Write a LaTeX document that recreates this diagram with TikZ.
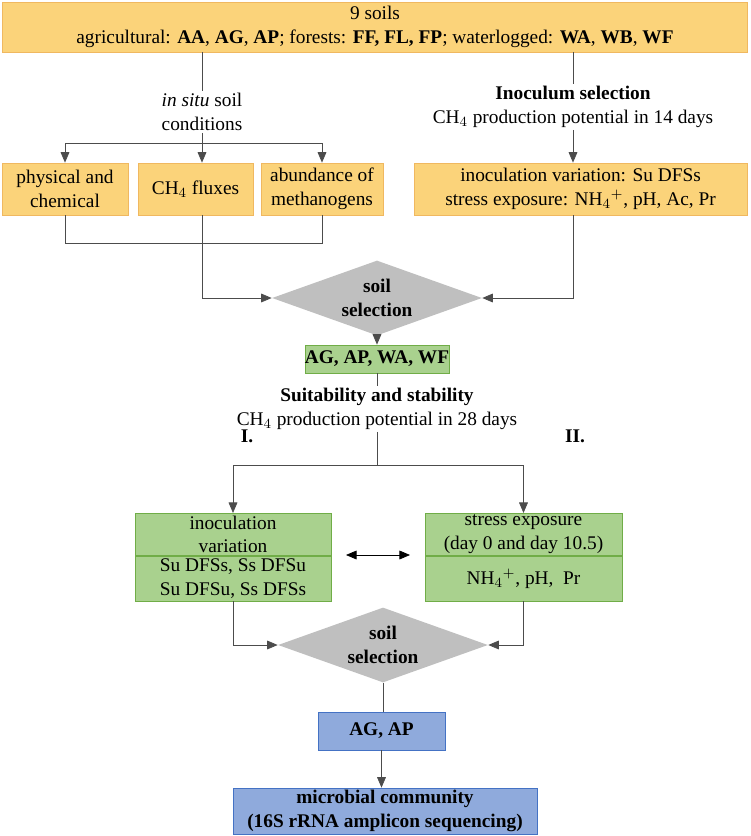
\documentclass[tikz,border=0pt]{standalone}
\usepackage{fontspec}
\setmainfont{Liberation Serif}
\usetikzlibrary{arrows.meta, positioning, shapes.geometric}
\definecolor{orfill}{RGB}{251,211,122}
\definecolor{ordraw}{RGB}{240,184,96}
\definecolor{grfill}{RGB}{169,209,142}
\definecolor{grdraw}{RGB}{112,173,71}
\definecolor{blfill}{RGB}{143,170,220}
\definecolor{bldraw}{RGB}{68,114,196}
\definecolor{dmfill}{RGB}{191,191,191}
\tikzset{
  orbox/.style={draw=ordraw,fill=orfill,align=center,inner sep=0pt},
  grbox/.style={draw=grdraw,fill=grfill,align=center,inner sep=0pt},
  blbox/.style={draw=bldraw,fill=blfill,align=center,inner sep=0pt},
  decide/.style={diamond,fill=dmfill,align=center,inner sep=0pt,aspect=2.8,minimum width=4.2cm,minimum height=1.5cm,font=\bfseries\fontsize{11}{13.5}\selectfont},
  plain/.style={align=center,inner sep=1pt},
  flow/.style={draw=black!70,-{Triangle[width=5pt,length=6pt]}},
  link/.style={draw=black!70}
}
\begin{document}
\begin{tikzpicture}[x=0.02cm,y=-0.02cm,font=\fontsize{11}{13.5}\selectfont]
\useasboundingbox (0,0) rectangle (751,836);
% soils
\node (soils) [orbox,minimum width=14.9cm,minimum height=1cm] at (375,27) {9 soils\\ agricultural: \textbf{AA}, \textbf{AG}, \textbf{AP}; forests: \textbf{FF, FL, FP}; waterlogged: \textbf{WA}, \textbf{WB}, \textbf{WF}};
%------------------------------------------------
\node (insitu) [plain] at (202,112) {\textit{in situ} soil\\ conditions};
\node (inoc) [plain] at (573,107) {\textbf{Inoculum selection}\\ CH$_4$ production potential in 14 days};
\coordinate (split) at (202,143);
\node (phys) [orbox,minimum width=2.52cm,minimum height=1.04cm] at (65,189) {physical and\\ chemical};
\node (flux) [orbox,minimum width=2.3cm,minimum height=1.04cm] at (195.5,189) {CH$_4$ fluxes};
\node (abund) [orbox,minimum width=2.44cm,minimum height=1.04cm] at (322,189) {abundance of\\ methanogens};
\node (inocvar) [orbox,minimum width=6.66cm,minimum height=1.04cm] at (580.5,189) {inoculation variation: Su DFSs\\ stress exposure: NH$_4{}^{+}$, pH, Ac, Pr};
%------------------------------------------------
\node (sel1) [decide] at (377,298) {soil\\ selection};
\node (four) [grbox,minimum width=2.56cm,minimum height=0.56cm,font=\bfseries\fontsize{11}{13.5}\selectfont] at (377,359) {AG, AP, WA, WF};
\node (suit) [plain] at (377,409) {\textbf{Suitability and stability}\\ CH$_4$ production potential in 28 days};
\coordinate (fork) at (377,465);
%------------------------------------------------
\node (varA) [grbox,minimum width=3.92cm,minimum height=0.84cm,anchor=north] at (233,513) {inoculation\\ variation};
\node (varB) [grbox,minimum width=3.92cm,minimum height=0.9cm,anchor=north] at (varA.south) {Su DFSs, Ss DFSu\\ Su DFSu, Ss DFSs};
\node (strA) [grbox,minimum width=3.94cm,minimum height=0.84cm,anchor=north] at (523.5,513) {stress exposure\\ (day 0 and day 10.5)};
\node (strB) [grbox,minimum width=3.94cm,minimum height=0.9cm,anchor=north] at (strA.south) {NH$_4{}^{+}$, pH,~ Pr};
\node (lblI) [plain,font=\bfseries\fontsize{11}{13.5}\selectfont] at (247,436) {I.};
\node (lblII) [plain,font=\bfseries\fontsize{11}{13.5}\selectfont] at (575,436) {II.};
\coordinate (dl) at (346,555);
\coordinate (dr) at (410,555);
%------------------------------------------------
\node (sel2) [decide] at (383,645) {soil\\ selection};
\node (two) [blbox,minimum width=2.54cm,minimum height=0.76cm,font=\bfseries\fontsize{11}{13.5}\selectfont] at (381.5,731) {AG, AP};
\node (micro) [blbox,minimum width=6.08cm,minimum height=0.92cm,font=\bfseries\fontsize{11}{13.5}\selectfont] at (385,811) {microbial community\\ (16S rRNA amplicon sequencing)};
%------------------------------------------------
\draw [link] (soils.south -| insitu) -- (insitu.north);
\draw [link] (insitu.south) -- (split);
\draw [flow] (split) -- (flux.north -| split);
\draw [flow] (split) -| (phys.north);
\draw [flow] (split) -| (abund.north);
\draw [link] (soils.south -| inoc) -- (inoc.north);
\draw [flow] (inoc.south) -- (inocvar.north -| inoc);
\draw [link] (phys.south) -- ++(0,28) -| (abund.south);
\draw [flow] (flux.south -| split) |- (sel1.west);
\draw [flow] (inocvar.south -| inoc) |- (sel1.east);
\draw [flow] (sel1.south) -- (four.north);
\draw [link] (four.south) -- (suit.north);
\draw [link] (suit.south) -- (fork);
\draw [flow] (fork) -| (varA.north);
\draw [flow] (fork) -| (strA.north);
\draw [{Triangle[width=5pt,length=6pt]}-{Triangle[width=5pt,length=6pt]}] (dl) -- (dr);
\draw [flow] (varB.south) |- (sel2.west);
\draw [flow] (strB.south) |- (sel2.east);
\draw [link] (sel2.south) -- (two.north -| sel2.south);
\draw [flow] (two.south) -- (micro.north -| two.south);
\end{tikzpicture}
\end{document}
